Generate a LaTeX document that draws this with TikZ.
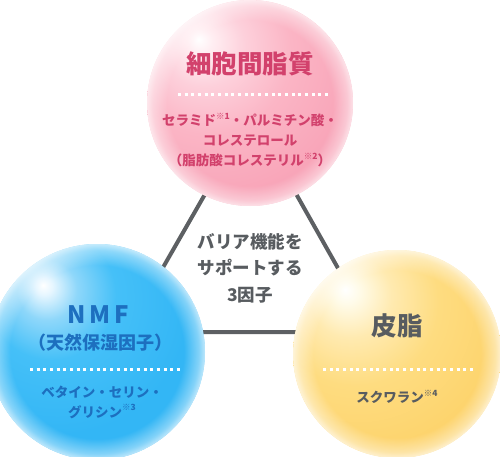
\documentclass[tikz,border=0pt]{standalone}
\usepackage{fontspec}
\setmainfont{Noto Sans CJK JP}
\usetikzlibrary{fadings}
\colorlet{pgftransparent}{black}
\definecolor{pinktxt}{HTML}{D2416C}
\definecolor{bluetxt}{HTML}{1D6FBF}
\definecolor{graytxt}{HTML}{585C60}
\definecolor{linegray}{HTML}{5D6063}
% pink ball
\definecolor{pA}{HTML}{FFEEF2}
\definecolor{pB}{HTML}{FDD0DB}
\definecolor{pC}{HTML}{FBB5C5}
\definecolor{pD}{HTML}{F8A3B7}
% blue ball
\definecolor{bA}{HTML}{E6F6FF}
\definecolor{bB}{HTML}{8ED7FA}
\definecolor{bC}{HTML}{45C0F8}
\definecolor{bD}{HTML}{33B6F5}
% yellow ball
\definecolor{yA}{HTML}{FFFBE9}
\definecolor{yB}{HTML}{FFEAB0}
\definecolor{yC}{HTML}{FEDC80}
\definecolor{yD}{HTML}{FDD36B}
\pgfdeclareradialshading{pinkball}{\pgfpoint{-12.5bp}{15.5bp}}{color(0bp)=(white); color(3bp)=(pA); color(10bp)=(pB); color(20bp)=(pC); color(35bp)=(pD); color(100bp)=(pD)}
\pgfdeclareradialshading{blueball}{\pgfpoint{-12.5bp}{15.5bp}}{color(0bp)=(white); color(2bp)=(bA); color(7bp)=(bB); color(15bp)=(bC); color(30bp)=(bD); color(100bp)=(bD)}
\pgfdeclareradialshading{yellowball}{\pgfpoint{-12.5bp}{15.5bp}}{color(0bp)=(white); color(3bp)=(yA); color(10bp)=(yB); color(20bp)=(yC); color(35bp)=(yD); color(100bp)=(yD)}
\pgfdeclareradialshading{rimshade}{\pgfpointorigin}{color(0bp)=(pgftransparent!100); color(20bp)=(pgftransparent!100); color(23.5bp)=(pgftransparent!60); color(25bp)=(pgftransparent!30); color(50bp)=(pgftransparent!30)}
\pgfdeclarefading{rimfade}{\pgfuseshading{rimshade}}
\newcommand\sref[1]{\raisebox{0.5em}{\fontsize{8.5}{8.5}\selectfont ※#1}}
\tikzset{
  ball/.style={circle, inner sep=0pt, draw=none},
  rim/.style={circle, inner sep=0pt, fill=white, draw=none, path fading=rimfade},
  dots/.style={white, line width=3pt, dash pattern=on 3pt off 3.68pt},
  tri/.style={linegray, line width=4pt, line join=miter},
  title/.style={font=\fontsize{25.5}{30}\selectfont\bfseries, inner sep=0pt},
  sub/.style={font=\fontsize{13.5}{20}\selectfont\bfseries, align=center, inner sep=0pt},
}
\begin{document}
\begin{tikzpicture}[x=1pt, y=-1pt]
\useasboundingbox (0,0) rectangle (500,457);
% triangle
\coordinate (tA) at (251,114);
\coordinate (tB) at (126,332);
\coordinate (tC) at (374,332);
\draw[tri] (tA) -- (tB) -- (tC) -- cycle;
% spheres
\node[ball, minimum size=206pt, shading=pinkball] (pinkb) at (250,103) {};
\node[rim, minimum size=206pt] (pinkr) at (pinkb) {};
\node[ball, minimum size=216pt, shading=blueball] (blueb) at (97,352) {};
\node[rim, minimum size=216pt] (bluer) at (blueb) {};
\node[ball, minimum size=208pt, shading=yellowball] (yelb) at (397,354) {};
\node[rim, minimum size=208pt] (yelr) at (yelb) {};
% pink texts
\node[title, text=pinktxt] (t1) at (250,64) {細胞間脂質};
\draw[dots] (178,95) -- (328,95);
\node[sub, text=pinktxt] (s1) at (250,140) {セラミド\sref{1}・パルミチン酸・\\コレステロール\\（脂肪酸コレステリル\sref{2}）};
% blue texts
\node[font=\fontsize{24}{28}\selectfont\bfseries, text=bluetxt, inner sep=0pt] (t2) at (98,315) {N\hspace{4pt}M\hspace{4pt}F};
\node[font=\fontsize{18}{22}\selectfont\bfseries, text=bluetxt, inner sep=0pt] (t2b) at (100,343) {（天然保湿因子）};
\draw[dots] (30,369) -- (181,369);
\node[sub, text=bluetxt] (s2) at (102,402.5) {ベタイン・セリン・\\グリシン\sref{3}};
% yellow texts
\node[title, text=graytxt] (t3) at (397,326) {皮脂};
\draw[dots] (323,369) -- (475,369);
\node[sub, text=graytxt] (s3) at (397,397) {スクワラン\sref{4}};
% center text
\node[font=\fontsize{17.5}{26.5}\selectfont\bfseries, text=graytxt, align=center, inner sep=0pt] (ct) at (250,268) {バリア機能を\\サポートする\\3因子};
\end{tikzpicture}
\end{document}
